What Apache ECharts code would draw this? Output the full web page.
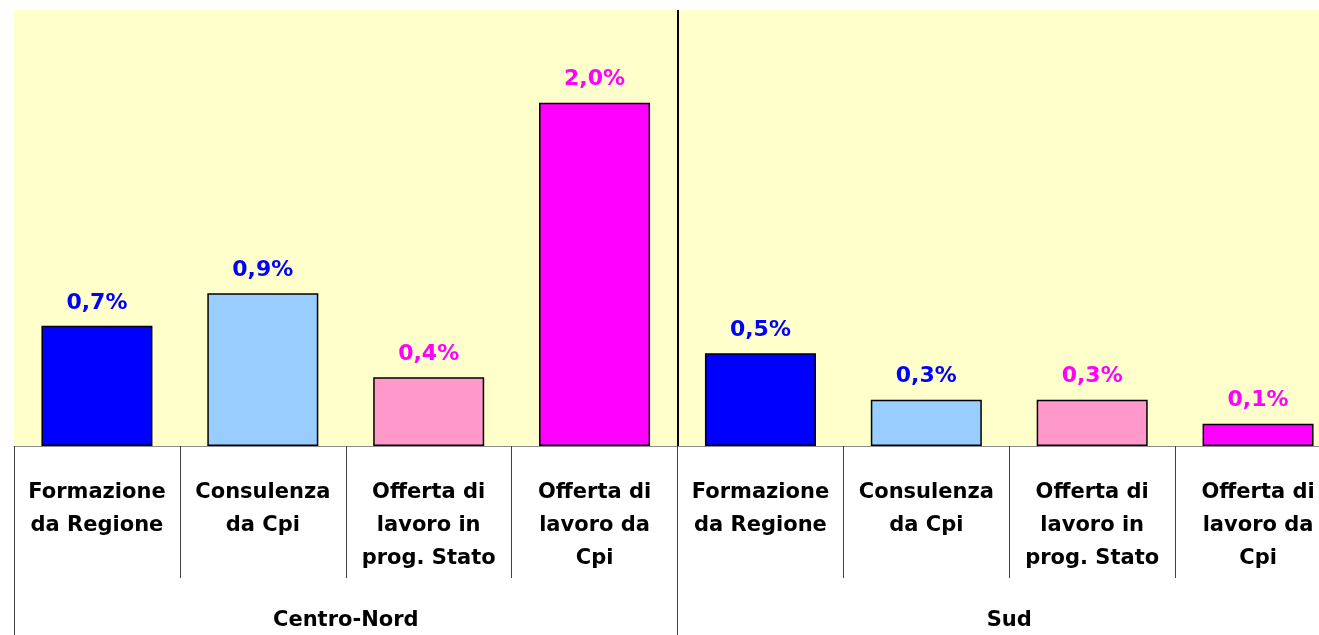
<!DOCTYPE html>
<html>
<head>
<meta charset="utf-8">
<script src="https://cdn.jsdelivr.net/npm/echarts@6/dist/echarts.min.js"></script>
<style>
  html, body { margin: 0; padding: 0; background: #ffffff; overflow: hidden; }
  /* the original picture is cropped on the right: the plot runs past the window edge */
  #chartContainer { width: 1341px; height: 635px; }
</style>
</head>
<body>
<div id="chartContainer"></div>
<script>
var categories = [
    'Formazione\nda Regione', 'Consulenza\nda Cpi', 'Offerta di\nlavoro in\nprog. Stato', 'Offerta di\nlavoro da\nCpi',
    'Formazione\nda Regione', 'Consulenza\nda Cpi', 'Offerta di\nlavoro in\nprog. Stato', 'Offerta di\nlavoro da\nCpi'
];
var groups = ['Centro-Nord', 'Sud'];
var values = [0.70, 0.89, 0.40, 2.00, 0.54, 0.27, 0.27, 0.13];
var bar_colors = ['#0000FF', '#99CCFF', '#FF99CC', '#FF00FF', '#0000FF', '#99CCFF', '#FF99CC', '#FF00FF'];
var label_colors = ['#0000FF', '#0000FF', '#FF00FF', '#FF00FF', '#0000FF', '#0000FF', '#FF00FF', '#FF00FF'];

var font = '"DejaVu Sans", "Liberation Sans", sans-serif';

var barData = [];
for (var i = 0; i < values.length; i++) {
    barData.push({
        value: values[i],
        itemStyle: { color: bar_colors[i] },
        label: { color: label_colors[i] }
    });
}

var option = {
    animation: false,
    grid: {
        left: 14,
        top: 10,
        right: 0,
        bottom: 189,
        show: true,
        backgroundColor: '#FFFFCC',
        borderWidth: 0
    },
    xAxis: [{
        type: 'category',
        data: categories,
        position: 'bottom',
        axisLine: { show: true, lineStyle: { color: '#8c8c8c', width: 1 } },
        axisTick: { show: true, length: 132, lineStyle: { color: '#404040', width: 1 } },
        axisLabel: {
            interval: 0,
            margin: 30,
            color: '#000',
            fontFamily: font,
            fontWeight: 'bold',
            fontSize: 21,
            lineHeight: 33,
            align: 'center'
        },
        splitLine: { show: false }
    }, {
        type: 'category',
        data: groups,
        position: 'bottom',
        axisLine: { show: false },
        axisTick: { show: true, length: 189, lineStyle: { color: '#404040', width: 1 } },
        axisLabel: {
            interval: 0,
            margin: 163,
            color: '#000',
            fontFamily: font,
            fontWeight: 'bold',
            fontSize: 21,
            lineHeight: 24
        },
        splitLine: {
            show: true,
            lineStyle: { color: ['transparent', '#000000', 'transparent'], width: 2 }
        }
    }],
    yAxis: {
        type: 'value',
        min: 0,
        max: 2.54,
        show: false,
        splitLine: { show: false }
    },
    series: [{
        type: 'bar',
        xAxisIndex: 0,
        data: barData,
        barWidth: 111,
        itemStyle: { borderColor: '#000', borderWidth: 1.5 },
        label: {
            show: true,
            position: 'top',
            distance: 12,
            fontFamily: font,
            fontWeight: 'bold',
            fontSize: 22,
            formatter: function (d) {
                return d.value.toFixed(1).replace('.', ',') + '%';
            }
        }
    }]
};

var chartDom = document.getElementById('chartContainer');
var chart = echarts.init(chartDom);
chart.setOption(option, true);
</script>
</body>
</html>
